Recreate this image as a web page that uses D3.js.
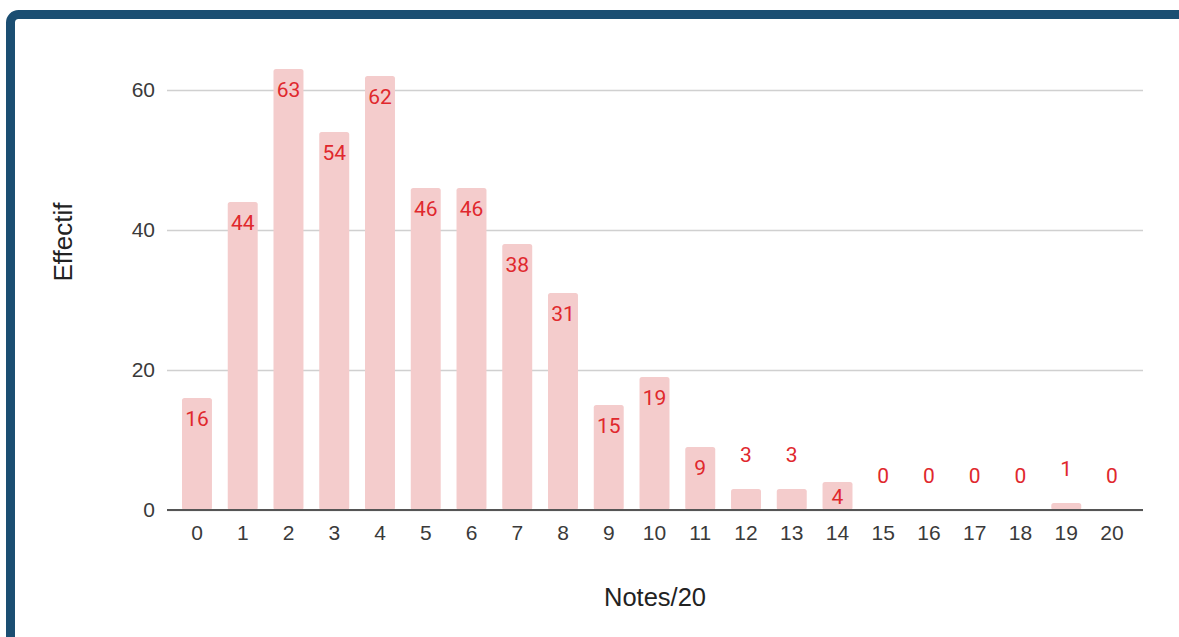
<!DOCTYPE html>
<html>
<head>
<meta charset="utf-8">
<script src="https://cdn.jsdelivr.net/npm/d3@7"></script>
<style>
  body { margin: 0; background: #fff; }
  svg { display: block; }
</style>
</head>
<body>
<div id="chart"></div>
<script>
// notes sur 20 et nombre d'eleves
var notes = ["0","1","2","3","4","5","6","7","8","9","10","11","12","13","14","15","16","17","18","19","20"];
var effectifs = [16, 44, 63, 54, 62, 46, 46, 38, 31, 15, 19, 9, 3, 3, 4, 0, 0, 0, 0, 1, 0];
var yTicks = [0, 20, 40, 60];

var svgWidth = 1179;
var svgHeight = 637;

var svg = d3.select("#chart")
  .append("svg")
  .attr("width", svgWidth)
  .attr("height", svgHeight);

// dark blue frame (runs off the right and bottom edges)
svg.append("rect")
  .attr("x", 10.5)
  .attr("y", 14.5)
  .attr("width", 1400)
  .attr("height", 800)
  .attr("rx", 8)
  .attr("fill", "none")
  .attr("stroke", "#1b4e72")
  .attr("stroke-width", 9);

var plotLeft = 167, plotRight = 1143;

var x = d3.scaleBand()
  .domain(notes)
  .range([174.1, 1134.9])
  .paddingInner(0.345)
  .paddingOuter(0.1725);

var y = d3.scaleLinear()
  .domain([0, 60])
  .range([510, 90]);

// gridlines + y labels
var yAxis = svg.append("g")
  .attr("transform", `translate(${plotLeft},0)`)
  .call(d3.axisLeft(y).tickValues(yTicks).tickSize(-(plotRight - plotLeft)).tickPadding(12));
yAxis.select(".domain").remove();
yAxis.selectAll(".tick line")
  .attr("stroke", "#d0d0d0")
  .attr("stroke-width", 1.5);
yAxis.selectAll(".tick text")
  .attr("fill", "#3a3a3a")
  .style("font", "21px 'Liberation Sans', Arial, sans-serif");

// bars
svg.selectAll(".bar")
  .data(effectifs)
  .enter()
  .append("rect")
  .attr("class", "bar")
  .attr("x", (d, i) => x(notes[i]))
  .attr("y", d => y(d))
  .attr("width", x.bandwidth())
  .attr("height", d => y(0) - y(d))
  .attr("rx", 2.5)
  .attr("fill", "#f4cccc");

// baseline
svg.append("line")
  .attr("x1", plotLeft)
  .attr("x2", plotRight)
  .attr("y1", y(0))
  .attr("y2", y(0))
  .attr("stroke", "#555")
  .attr("stroke-width", 2);

// value labels
svg.selectAll(".val")
  .data(effectifs)
  .enter()
  .append("text")
  .attr("class", "val")
  .attr("x", (d, i) => x(notes[i]) + x.bandwidth() / 2)
  .attr("y", function(d) {
    var h = y(0) - y(d);
    if (h >= 35) return y(d) + 28;
    if (h >= 25) return y(d) + h / 2 + 8;
    return y(d) - 27;
  })
  .attr("text-anchor", "middle")
  .attr("fill", "#e0282d")
  .style("font", "21px Roboto, sans-serif")
  .text(d => d);

// x labels
var xAxis = svg.append("g")
  .attr("transform", `translate(0,${y(0)})`)
  .call(d3.axisBottom(x).tickSize(0).tickPadding(15));
xAxis.select(".domain").remove();
xAxis.selectAll(".tick text")
  .attr("fill", "#3a3a3a")
  .style("font", "21px 'Liberation Sans', Arial, sans-serif");

// axis titles
svg.append("text")
  .attr("transform", "translate(72,242) rotate(-90)")
  .attr("text-anchor", "middle")
  .attr("fill", "#222")
  .style("font", "26px 'Liberation Sans', Arial, sans-serif")
  .text("Effectif");

svg.append("text")
  .attr("x", 655)
  .attr("y", 606)
  .attr("text-anchor", "middle")
  .attr("fill", "#222")
  .style("font", "25.5px 'Liberation Sans', Arial, sans-serif")
  .text("Notes/20");
</script>
</body>
</html>
